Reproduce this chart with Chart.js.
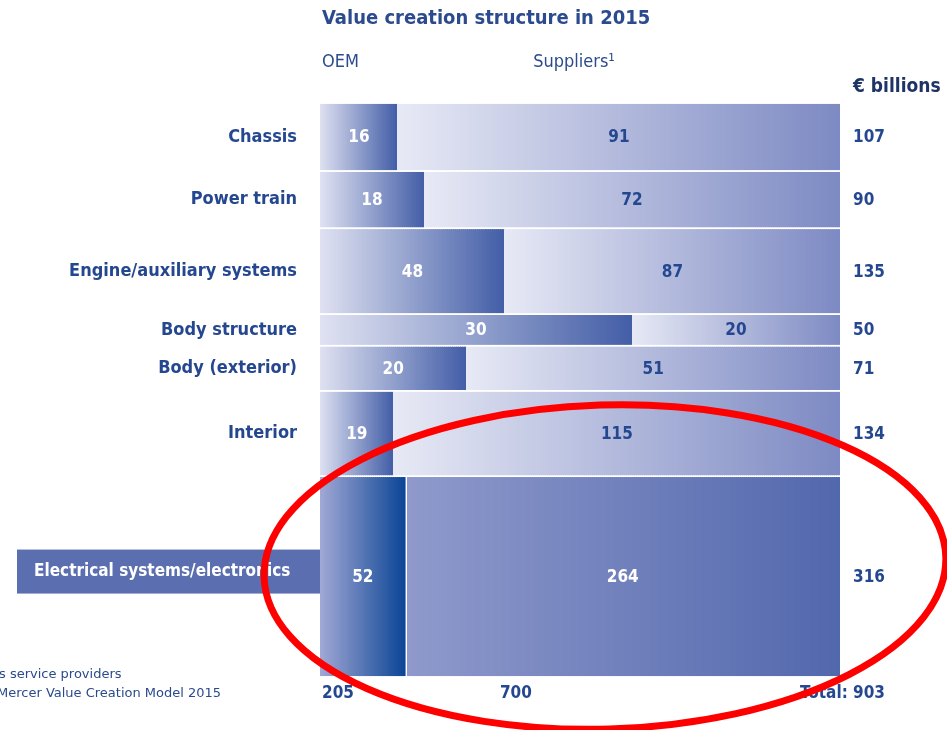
<!DOCTYPE html>
<html>
<head>
<meta charset="utf-8">
<script src="https://cdn.jsdelivr.net/npm/chart.js@4.4.1/dist/chart.umd.min.js"></script>
<style>
  html, body { margin: 0; padding: 0; background: #fff; }
  #wrap { width: 947px; height: 730px; }
</style>
</head>
<body>
<div id="wrap"><canvas id="myChart" width="947" height="730"></canvas></div>
<script>
// value creation 2015, € billions
var categories = ["Chassis", "Power train", "Engine/auxiliary systems", "Body structure", "Body (exterior)", "Interior", "Electrical systems/electronics"];
var oem = [16, 18, 48, 30, 20, 19, 52];
var suppliers = [91, 72, 87, 20, 51, 115, 264];
var totals = [107, 90, 135, 50, 71, 134, 316];
var columnTotals = [205, 700, 903];

var FONT = '"DejaVu Sans Condensed", "DejaVu Sans", sans-serif';
var BLUE = '#24478f';
var GAP = 1.5; // half of the white gap between rows, in € billions units
var highlight = categories.length - 1;

var grandTotal = 0;
var starts = [];
for (var i = 0; i < totals.length; i++) {
    starts.push(grandTotal);
    grandTotal += totals[i];
}

// tile shading, left colour -> right colour
var tileColors = [];

// one dataset per tile: two corner points in data units
function tile(x0, x1, y0, y1, c0, c1) {
    tileColors.push([c0, c1]);
    return {
        data: [{ x: x0, y: y0 }, { x: x1, y: y1 }],
        showLine: false,
        pointRadius: 0,
        pointHoverRadius: 0
    };
}

var datasets = [];
for (var i = 0; i < categories.length; i++) {
    var share = oem[i] / totals[i];
    var rowTop = starts[i] + GAP;
    var rowBottom = starts[i] + totals[i] - GAP;
    if (i == highlight) {
        datasets.push(tile(0, share, rowTop, rowBottom, '#a3a9d5', '#0c4596'));
        datasets.push(tile(share + 0.003, 1, rowTop, rowBottom, '#8f99cb', '#5268ad'));
    } else {
        datasets.push(tile(0, share, rowTop, rowBottom, '#e0e2f2', '#435ea7'));
        datasets.push(tile(share, 1, rowTop, rowBottom, '#e7e9f5', '#7d8ac3'));
    }
}

function hexRgb(h) {
    return [parseInt(h.substr(1, 2), 16), parseInt(h.substr(3, 2), 16), parseInt(h.substr(5, 2), 16)];
}

function mix(c0, c1, t) {
    var a = hexRgb(c0), b = hexRgb(c1);
    return 'rgb(' + Math.round(a[0] + (b[0] - a[0]) * t) + ',' + Math.round(a[1] + (b[1] - a[1]) * t) + ',' + Math.round(a[2] + (b[2] - a[2]) * t) + ')';
}

function drawTiles(chart) {
    var ctx = chart.ctx;
    var xs = chart.scales.x;
    var ys = chart.scales.y;
    for (var k = 0; k < chart.data.datasets.length; k++) {
        var pts = chart.data.datasets[k].data;
        var x0 = xs.getPixelForValue(pts[0].x);
        var x1 = xs.getPixelForValue(pts[1].x);
        var y0 = ys.getPixelForValue(pts[0].y);
        var y1 = ys.getPixelForValue(pts[1].y);
        var w = x1 - x0;
        var n = Math.max(1, Math.ceil(w / 2));
        // horizontal shading done with thin solid strips
        for (var s = 0; s < n; s++) {
            var xl = Math.floor(x0 + w * s / n);
            var xr = Math.min(Math.ceil(x0 + w * (s + 1) / n), x1);
            ctx.fillStyle = mix(tileColors[k][0], tileColors[k][1], (s + 0.5) / n);
            ctx.fillRect(xl, y0, xr - xl, y1 - y0);
        }
    }
}

var labelsPlugin = {
    id: 'valueLabels',
    afterDatasetsDraw: function (chart) {
        var ctx = chart.ctx;
        var xs = chart.scales.x;
        var ys = chart.scales.y;
        var area = chart.chartArea;
        ctx.save();
        drawTiles(chart);
        ctx.textBaseline = 'middle';

        for (var i = 0; i < categories.length; i++) {
            var share = oem[i] / totals[i];
            var yc = ys.getPixelForValue(starts[i] + totals[i] / 2);

            // values inside the bars
            ctx.font = 'bold 17px ' + FONT;
            ctx.textAlign = 'center';
            ctx.fillStyle = '#ffffff';
            ctx.fillText(oem[i], xs.getPixelForValue(share / 2), yc + 1);
            ctx.fillStyle = i == highlight ? '#ffffff' : BLUE;
            ctx.fillText(suppliers[i], xs.getPixelForValue((share + 1) / 2), yc + 1);

            // row totals on the right
            ctx.textAlign = 'left';
            ctx.fillStyle = BLUE;
            ctx.fillText(totals[i], area.right + 13, yc + 1);

            // category names
            if (i == highlight) {
                ctx.fillStyle = '#5a6eb0';
                ctx.fillRect(17, yc - 27, area.left - 17, 44);
                ctx.font = 'bold 17px ' + FONT;
                ctx.fillStyle = '#ffffff';
                ctx.textAlign = 'left';
                ctx.fillText(categories[i], 34, yc - 5);
            } else {
                ctx.font = 'bold 18px ' + FONT;
                ctx.fillStyle = BLUE;
                ctx.textAlign = 'right';
                ctx.fillText(categories[i], area.left - 23, yc);
            }
        }

        // headings
        ctx.textAlign = 'left';
        ctx.fillStyle = '#2c4b8e';
        ctx.font = 'bold 20px ' + FONT;
        ctx.fillText('Value creation structure in 2015', area.left + 2, 19);
        ctx.font = '18px ' + FONT;
        ctx.fillText('OEM', area.left + 2, 62);
        ctx.fillText('Suppliers\u00b9', xs.getPixelForValue(0.41), 62);
        ctx.font = 'bold 19px ' + FONT;
        ctx.fillStyle = '#1e3366';
        ctx.fillText('\u20ac billions', area.right + 13, 87);

        // column totals under the chart
        ctx.fillStyle = BLUE;
        ctx.font = 'bold 17px ' + FONT;
        ctx.fillText(columnTotals[0], area.left + 2, area.bottom + 17);
        ctx.fillText(columnTotals[1], xs.getPixelForValue(0.346), area.bottom + 17);
        ctx.textAlign = 'right';
        ctx.fillText('Total: ' + columnTotals[2], area.right + 45, area.bottom + 17);

        // footnotes (cut off on the left in the original)
        ctx.textAlign = 'left';
        ctx.font = '13px "DejaVu Sans", sans-serif';
        ctx.fillStyle = '#2a4a8e';
        ctx.fillText('s service providers', -1, area.bottom - 2);
        ctx.fillText('Mercer Value Creation Model 2015', -3, area.bottom + 17);
        ctx.restore();
    },
    afterDraw: function (chart) {
        // red hand-drawn ellipse round the electrical row
        var ctx = chart.ctx;
        var xs = chart.scales.x;
        var ys = chart.scales.y;
        ctx.save();
        ctx.strokeStyle = '#ff0000';
        ctx.lineWidth = 7;
        ctx.beginPath();
        ctx.ellipse(xs.getPixelForValue(0.548), ys.getPixelForValue(730), 341, 162, -0.03, 0, Math.PI * 2);
        ctx.stroke();
        ctx.restore();
    }
};

var ctx = document.getElementById("myChart");
var myChart = new Chart(ctx, {
    type: 'scatter',
    data: { datasets: datasets },
    options: {
        responsive: false,
        animation: false,
        events: [],
        layout: { padding: { left: 320, right: 107, top: 103, bottom: 53 } },
        plugins: {
            legend: { display: false },
            tooltip: { enabled: false }
        },
        scales: {
            x: { type: 'linear', min: 0, max: 1, display: false },
            y: { type: 'linear', min: 0, max: grandTotal, reverse: true, display: false }
        }
    },
    plugins: [labelsPlugin]
});
</script>
</body>
</html>
